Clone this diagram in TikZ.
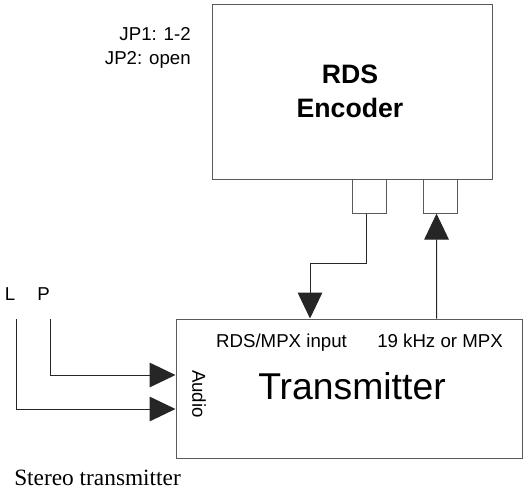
\documentclass[tikz,border=0pt]{standalone}
\usepackage{fontspec}
\setmainfont{Liberation Sans}
\newfontfamily\timesfont{Liberation Serif}
\usetikzlibrary{arrows.meta}

\begin{document}
\begin{tikzpicture}[
            x=0.75pt, y=-0.75pt,
            unitbox/.style={
                draw=black!65,
                line width=0.75pt,
                inner sep=0pt
            },
            jackbox/.style={
                unitbox,
                minimum width=25.5pt,
                minimum height=25pt
            },
            labeltext/.style={
                font=\fontsize{14}{18}\selectfont,
                inner sep=0pt
            },
            signalarrow/.style={
                -{Triangle[width=18.5pt,length=19.5pt]},
                line width=0.75pt,
                draw=black!85
            }
        ]

        \useasboundingbox (0,0) rectangle (523,491);

        % --- RDS encoder ---
        \node[unitbox, minimum width=210pt, minimum height=131.25pt]
            (encoder) at (352,92.5) {};

        \node[font=\fontsize{20}{26}\selectfont\bfseries, align=center,
            inner sep=0pt, anchor=base]
            (encname) at (350,118) {RDS\\Encoder};

        \node[labeltext, align=right, anchor=base east]
            (jumpers) at (191,65) {JP1: 1-2\\JP2: open};

        \node[jackbox] (rdsout) at (369,196.5) {};
        \node[jackbox] (pilotin) at (440,196.5) {};

        % --- Transmitter ---
        \node[unitbox, minimum width=259.5pt, minimum height=104.25pt]
            (trans) at (349,388.5) {};

        \node[font=\fontsize{28}{32}\selectfont, inner sep=0pt, anchor=base]
            (transname) at (352,399) {Transmitter};

        \node[labeltext, anchor=base] (rdsin) at (281.5,347) {RDS/MPX input};
        \node[labeltext, anchor=base] (pilotout) at (440,347) {19 kHz or MPX};
        \node[labeltext, rotate=-90] (audio) at (199,394) {Audio};

        \node[font=\timesfont\fontsize{17.5}{20}\selectfont, inner sep=0pt,
            anchor=base west]
            (caption) at (14,485) {Stereo transmitter};

        % --- Audio inputs ---
        \node[labeltext, anchor=base] (leftlabel) at (10,300) {L};
        \node[labeltext, anchor=base] (rightlabel) at (43.5,300) {P};

        \coordinate (leftin) at (16,319);
        \coordinate (rightin) at (50,319);

        \draw[signalarrow] (rightin) |- (trans.west |- 0,375);
        \draw[signalarrow] (leftin) |- (trans.west |- 0,409);

        % --- Encoder links ---
        \coordinate (rdsbend) at (366,263);
        \draw[signalarrow] ([xshift=-2.25pt]rdsout.south) -- (rdsbend)
            -| (trans.north -| 310,0);
        \draw[signalarrow] (trans.north -| 436.5,0)
            -- ([xshift=-2.6pt]pilotin.south);

        \end{tikzpicture}
\end{document}
